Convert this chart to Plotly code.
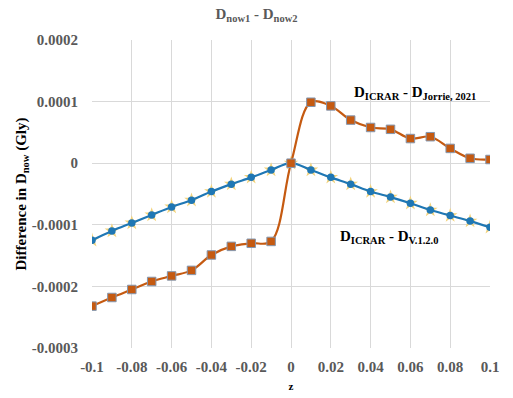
import plotly.graph_objects as go

z = [-0.1, -0.09, -0.08, -0.07, -0.06, -0.05, -0.04, -0.03, -0.02, -0.01, 0.0,
     0.01, 0.02, 0.03, 0.04, 0.05, 0.06, 0.07, 0.08, 0.09, 0.1]
d_jorrie = [-0.000232, -0.000218, -0.000205, -0.000192, -0.000183, -0.000174, -0.000149,
            -0.000135, -0.000130, -0.000127, 0.0, 0.000099, 0.000093, 0.000070, 0.000058,
            0.000055, 0.000040, 0.000043, 0.000024, 0.000008, 0.000006]
d_v120 = [-0.000125, -0.000110, -0.000097, -0.000084, -0.000071, -0.000060, -0.000046,
          -0.000034, -0.000023, -0.000011, 0.0, -0.000011, -0.000023, -0.000034, -0.000046,
          -0.000055, -0.000065, -0.000076, -0.000085, -0.000094, -0.000104]
x_ticks = [-0.1, -0.08, -0.06, -0.04, -0.02, 0, 0.02, 0.04, 0.06, 0.08, 0.1]
x_ticklabels = ["-0.1", "-0.08", "-0.06", "-0.04", "-0.02", "0", "0.02", "0.04", "0.06", "0.08", "0.1"]
y_ticks = [0.0002, 0.0001, 0, -0.0001, -0.0002, -0.0003]
y_ticklabels = ["0.0002", "0.0001", "0", "-0.0001", "-0.0002", "-0.0003"]

FONT = "Liberation Serif"
fig = go.Figure()
fig.add_trace(go.Scatter(x=z, y=d_v120, mode="markers",
                         marker=dict(symbol="star", size=11, color="#f2d27a"),
                         showlegend=False, hoverinfo="skip"))
fig.add_trace(go.Scatter(x=z, y=d_v120, mode="lines+markers", line_shape="spline",
                         line=dict(color="#1f77b4", width=2.2),
                         marker=dict(symbol="circle", size=7.5, color="#1f77b4"),
                         showlegend=False))
fig.add_trace(go.Scatter(x=z, y=d_jorrie, mode="lines+markers", line_shape="spline",
                         line=dict(color="#c55a11", width=2.2),
                         marker=dict(symbol="square", size=8.5, color="#c55a11",
                                     line=dict(color="#8497b0", width=1)),
                         showlegend=False))

fig.add_annotation(x=0.0623, y=0.0001136, xref="x", yref="y",
                   text="<b>D<sub>ICRAR</sub> - D<sub>Jorrie, 2021</sub></b>",
                   showarrow=False, font=dict(family=FONT, size=15, color="#000000"))
fig.add_annotation(x=0.0492, y=-0.00012, xref="x", yref="y",
                   text="<b>D<sub>ICRAR</sub> - D<sub>V.1.2.0</sub></b>",
                   showarrow=False, font=dict(family=FONT, size=15, color="#000000"))

fig.update_layout(
    width=513, height=398,
    margin=dict(l=92, r=23, t=40, b=50),
    paper_bgcolor="white", plot_bgcolor="white",
    font=dict(family=FONT, color="#595959"),
    title=dict(text="<b>D<sub>now1</sub> - D<sub>now2</sub></b>", x=0.5, xanchor="center",
               y=0.978, yanchor="top", font=dict(family=FONT, size=15, color="#595959")),
)
fig.update_xaxes(range=[-0.1, 0.1], tickvals=x_ticks,
                 ticktext=["<b>%s</b>" % t for t in x_ticklabels],
                 showgrid=True, gridcolor="#d9d9d9", gridwidth=1, zeroline=False,
                 showline=False, ticks="outside", ticklen=5, tickcolor="rgba(0,0,0,0)",
                 automargin=False,
                 tickfont=dict(family=FONT, size=15, color="#595959"),
                 title=dict(text="<b>z</b>", font=dict(family=FONT, size=11, color="#000000"),
                            standoff=8))
fig.update_yaxes(range=[-0.0003, 0.0002], tickvals=y_ticks,
                 ticktext=["<b>%s</b>" % t for t in y_ticklabels],
                 showgrid=True, gridcolor="#d9d9d9", gridwidth=1, zeroline=False,
                 showline=False, ticks="outside", ticklen=10, tickcolor="rgba(0,0,0,0)",
                 automargin=False,
                 tickfont=dict(family=FONT, size=15, color="#595959"),
                 title=dict(text="<b>Difference in D<sub>now</sub> (Gly)</b>",
                            font=dict(family=FONT, size=15, color="#000000"), standoff=1))

fig.write_html("out.html", config={"displayModeBar": False},
               post_script="document.body.style.margin='0';")
